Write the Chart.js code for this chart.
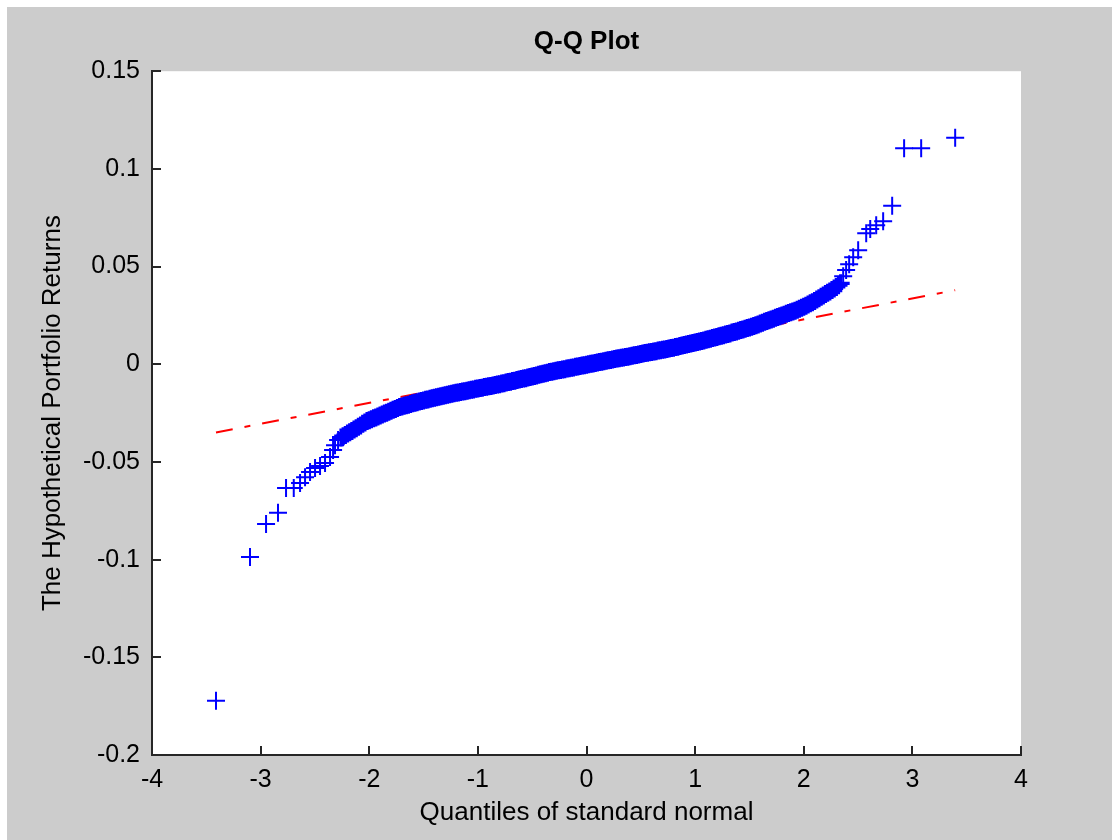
<!DOCTYPE html>
<html>
<head>
<meta charset="utf-8">
<title>Q-Q Plot</title>
<script src="https://cdn.jsdelivr.net/npm/chart.js@4.4.1/dist/chart.umd.min.js"></script>
<style>
  html, body { margin: 0; padding: 0; background: #ffffff; }
  canvas { display: block; }
</style>
</head>
<body>
<canvas id="qq" width="1112" height="840"></canvas>
<script>
// Lower tail: theoretical normal quantiles and portfolio returns
const lowerTailX = [-3.411, -3.098, -2.950, -2.840, -2.766, -2.695, -2.637, -2.591, -2.545, -2.499, -2.453, -2.407, -2.361, -2.333, -2.315, -2.287];
const lowerTailY = [-0.1722, -0.0987, -0.0818, -0.0760, -0.0634, -0.0634, -0.0608, -0.0578, -0.0552, -0.0531, -0.0521, -0.0506, -0.0475, -0.0439, -0.0414, -0.0388];

// Body of the distribution (dense run of observations)
const bodyX = [
  -2.26, -2.24, -2.22, -2.20, -2.18, -2.16, -2.14, -2.12, -2.10, -2.08,
  -2.06, -2.04, -2.02, -2.00, -1.98, -1.96, -1.94, -1.92, -1.90, -1.88,
  -1.86, -1.84, -1.82, -1.80, -1.78, -1.76, -1.74, -1.72, -1.70, -1.68,
  -1.66, -1.64, -1.62, -1.60, -1.58, -1.56, -1.54, -1.52, -1.50, -1.48,
  -1.46, -1.44, -1.42, -1.40, -1.38, -1.36, -1.34, -1.32, -1.30, -1.28,
  -1.26, -1.24, -1.22, -1.20, -1.18, -1.16, -1.14, -1.12, -1.10, -1.08,
  -1.06, -1.04, -1.02, -1.00, -0.98, -0.96, -0.94, -0.92, -0.90, -0.88,
  -0.86, -0.84, -0.82, -0.80, -0.78, -0.76, -0.74, -0.72, -0.70, -0.68,
  -0.66, -0.64, -0.62, -0.60, -0.58, -0.56, -0.54, -0.52, -0.50, -0.48,
  -0.46, -0.44, -0.42, -0.40, -0.38, -0.36, -0.34, -0.32, -0.30, -0.28,
  -0.26, -0.24, -0.22, -0.20, -0.18, -0.16, -0.14, -0.12, -0.10, -0.08,
  -0.06, -0.04, -0.02, 0.00, 0.02, 0.04, 0.06, 0.08, 0.10, 0.12,
  0.14, 0.16, 0.18, 0.20, 0.22, 0.24, 0.26, 0.28, 0.30, 0.32,
  0.34, 0.36, 0.38, 0.40, 0.42, 0.44, 0.46, 0.48, 0.50, 0.52,
  0.54, 0.56, 0.58, 0.60, 0.62, 0.64, 0.66, 0.68, 0.70, 0.72,
  0.74, 0.76, 0.78, 0.80, 0.82, 0.84, 0.86, 0.88, 0.90, 0.92,
  0.94, 0.96, 0.98, 1.00, 1.02, 1.04, 1.06, 1.08, 1.10, 1.12,
  1.14, 1.16, 1.18, 1.20, 1.22, 1.24, 1.26, 1.28, 1.30, 1.32,
  1.34, 1.36, 1.38, 1.40, 1.42, 1.44, 1.46, 1.48, 1.50, 1.52,
  1.54, 1.56, 1.58, 1.60, 1.62, 1.64, 1.66, 1.68, 1.70, 1.72,
  1.74, 1.76, 1.78, 1.80, 1.82, 1.84, 1.86, 1.88, 1.90, 1.92,
  1.94, 1.96, 1.98, 2.00, 2.02, 2.04, 2.06, 2.08, 2.10, 2.12,
  2.14, 2.16, 2.18, 2.20, 2.22, 2.24, 2.26, 2.28, 2.30, 2.32,
  2.34
];
const bodyY = [
  -0.0375, -0.0368, -0.0362, -0.0355, -0.0348, -0.0341, -0.0334, -0.0327, -0.0320, -0.0313,
  -0.0305, -0.0298, -0.0291, -0.0286, -0.0281, -0.0276, -0.0272, -0.0267, -0.0262, -0.0257,
  -0.0252, -0.0248, -0.0243, -0.0238, -0.0233, -0.0229, -0.0224, -0.0219, -0.0216, -0.0213,
  -0.0210, -0.0207, -0.0204, -0.0200, -0.0197, -0.0194, -0.0191, -0.0188, -0.0185, -0.0182,
  -0.0180, -0.0177, -0.0174, -0.0172, -0.0169, -0.0166, -0.0164, -0.0161, -0.0158, -0.0156,
  -0.0153, -0.0151, -0.0149, -0.0146, -0.0144, -0.0142, -0.0140, -0.0138, -0.0135, -0.0133,
  -0.0131, -0.0129, -0.0126, -0.0124, -0.0122, -0.0120, -0.0117, -0.0115, -0.0113, -0.0111,
  -0.0109, -0.0106, -0.0104, -0.0102, -0.0099, -0.0097, -0.0094, -0.0091, -0.0089, -0.0086,
  -0.0084, -0.0081, -0.0078, -0.0076, -0.0073, -0.0071, -0.0068, -0.0065, -0.0063, -0.0060,
  -0.0057, -0.0054, -0.0051, -0.0049, -0.0046, -0.0043, -0.0040, -0.0038, -0.0036, -0.0033,
  -0.0031, -0.0029, -0.0027, -0.0025, -0.0022, -0.0020, -0.0018, -0.0016, -0.0013, -0.0011,
  -0.0009, -0.0007, -0.0005, -0.0002, 0.0000, 0.0002, 0.0004, 0.0007, 0.0009, 0.0011,
  0.0013, 0.0015, 0.0018, 0.0020, 0.0022, 0.0024, 0.0027, 0.0029, 0.0031, 0.0033,
  0.0035, 0.0037, 0.0039, 0.0041, 0.0044, 0.0046, 0.0048, 0.0050, 0.0052, 0.0055,
  0.0057, 0.0059, 0.0061, 0.0063, 0.0065, 0.0067, 0.0070, 0.0072, 0.0074, 0.0076,
  0.0078, 0.0081, 0.0083, 0.0085, 0.0088, 0.0090, 0.0093, 0.0096, 0.0098, 0.0101,
  0.0104, 0.0106, 0.0109, 0.0112, 0.0114, 0.0117, 0.0119, 0.0122, 0.0125, 0.0128,
  0.0131, 0.0134, 0.0137, 0.0140, 0.0143, 0.0146, 0.0149, 0.0152, 0.0155, 0.0158,
  0.0162, 0.0165, 0.0168, 0.0172, 0.0175, 0.0178, 0.0182, 0.0185, 0.0188, 0.0192,
  0.0196, 0.0200, 0.0204, 0.0209, 0.0213, 0.0217, 0.0221, 0.0225, 0.0229, 0.0233,
  0.0238, 0.0242, 0.0246, 0.0250, 0.0254, 0.0258, 0.0262, 0.0266, 0.0270, 0.0274,
  0.0279, 0.0284, 0.0289, 0.0294, 0.0300, 0.0306, 0.0312, 0.0318, 0.0324, 0.0331,
  0.0338, 0.0345, 0.0352, 0.0359, 0.0366, 0.0373, 0.0380, 0.0388, 0.0396, 0.0405,
  0.0414
];

// Upper tail
const upperTailX = [2.363, 2.390, 2.418, 2.455, 2.501, 2.575, 2.612, 2.667, 2.731, 2.814, 2.924, 3.081, 3.394];
const upperTailY = [0.0451, 0.0482, 0.0512, 0.0548, 0.0584, 0.0671, 0.0692, 0.0712, 0.0732, 0.0811, 0.1106, 0.1106, 0.1159];

// Reference line through the quartiles, extended to the data range
const refLineX = [-3.411, 3.394];
const refLineY = [-0.0349, 0.0379];

// Axis ticks
const xTicks = [-4, -3, -2, -1, 0, 1, 2, 3, 4];
const xTickLabels = ['-4', '-3', '-2', '-1', '0', '1', '2', '3', '4'];
const yTicks = [-0.2, -0.15, -0.1, -0.05, 0, 0.05, 0.1, 0.15];
const yTickLabels = ['-0.2', '-0.15', '-0.1', '-0.05', '0', '0.05', '0.1', '0.15'];

const FONT = '"Liberation Sans", Arial, Helvetica, sans-serif';
const AXIS_COLOR = '#262626';
const MARKER_BLUE = '#0000ff';

const zip = (xs, ys) => xs.map((x, i) => ({ x: x, y: ys[i] }));
const tailPoints = zip(lowerTailX, lowerTailY).concat(zip(upperTailX, upperTailY));
const bodyPoints = zip(bodyX, bodyY);
const linePoints = zip(refLineX, refLineY);

// Grey figure background with a white axes box
const backdrop = {
  id: 'backdrop',
  beforeDraw(chart) {
    const { ctx, width, height, chartArea: a } = chart;
    ctx.save();
    ctx.fillStyle = '#ffffff';
    ctx.fillRect(0, 0, width, height);
    ctx.fillStyle = '#cccccc';
    ctx.fillRect(7, 7, width - 7, height - 7);
    ctx.fillStyle = '#ffffff';
    ctx.fillRect(a.left, a.top, a.right - a.left, a.bottom - a.top);
    ctx.restore();
  }
};

// Tick marks pointing into the axes box
const inwardTicks = {
  id: 'inwardTicks',
  afterDraw(chart) {
    const { ctx, chartArea: a, scales } = chart;
    ctx.save();
    ctx.strokeStyle = AXIS_COLOR;
    ctx.lineWidth = 2;
    ctx.beginPath();
    scales.x.ticks.forEach(t => {
      const px = Math.round(scales.x.getPixelForValue(t.value));
      ctx.moveTo(px, a.bottom);
      ctx.lineTo(px, a.bottom - 9);
    });
    scales.y.ticks.forEach(t => {
      const py = Math.round(scales.y.getPixelForValue(t.value));
      ctx.moveTo(a.left, py);
      ctx.lineTo(a.left + 9, py);
    });
    ctx.stroke();
    ctx.restore();
  }
};

const crossStyle = {
  pointStyle: 'cross',
  pointRadius: 9,
  pointHoverRadius: 9,
  borderColor: MARKER_BLUE,
  backgroundColor: MARKER_BLUE
};

new Chart(document.getElementById('qq'), {
  type: 'scatter',
  data: {
    datasets: [
      Object.assign({ label: 'Tails', data: tailPoints, pointBorderWidth: 2, borderWidth: 2 }, crossStyle),
      // overlapping crosses in the body merge into one solid band
      Object.assign({ label: 'Body', data: bodyPoints, pointBorderWidth: 3.2, borderWidth: 3.2 }, crossStyle),
      {
        type: 'line',
        label: 'Reference',
        data: linePoints,
        borderColor: '#ff0000',
        borderWidth: 2,
        borderDash: [17, 12, 6, 12],
        pointRadius: 0,
        fill: false,
        tension: 0
      }
    ]
  },
  options: {
    responsive: false,
    devicePixelRatio: 1,
    animation: false,
    events: [],
    layout: { padding: { left: 0, top: 0, right: 91, bottom: 0 } },
    plugins: {
      legend: { display: false },
      tooltip: { enabled: false },
      title: {
        display: true,
        fullSize: false,
        text: 'Q-Q Plot',
        color: '#000000',
        font: { family: FONT, size: 26, weight: 'bold', lineHeight: 1.2 },
        padding: { top: 26, bottom: 14 }
      }
    },
    scales: {
      x: {
        type: 'linear',
        min: -4,
        max: 4,
        afterFit(scale) { scale.height = 85; },
        afterBuildTicks(scale) { scale.ticks = xTicks.map(v => ({ value: v })); },
        ticks: {
          autoSkip: false,
          maxRotation: 0,
          padding: 10,
          color: '#000000',
          font: { family: FONT, size: 25, lineHeight: 1.2 },
          callback: (v, i) => xTickLabels[i]
        },
        grid: { display: false, drawTicks: false },
        border: { display: true, color: AXIS_COLOR, width: 2 },
        title: {
          display: true,
          text: 'Quantiles of standard normal',
          color: '#000000',
          font: { family: FONT, size: 26, lineHeight: 1.2 },
          padding: { top: 0, bottom: 12 }
        }
      },
      y: {
        type: 'linear',
        min: -0.2,
        max: 0.15,
        afterFit(scale) { scale.width = 152; },
        afterBuildTicks(scale) { scale.ticks = yTicks.map(v => ({ value: v })); },
        ticks: {
          autoSkip: false,
          padding: 12,
          color: '#000000',
          font: { family: FONT, size: 25, lineHeight: 1.2 },
          callback: (v, i) => yTickLabels[i]
        },
        grid: { display: false, drawTicks: false },
        border: { display: true, color: AXIS_COLOR, width: 2 },
        title: {
          display: true,
          text: 'The Hypothetical Portfolio Returns',
          color: '#000000',
          font: { family: FONT, size: 26, lineHeight: 1.2 },
          padding: { top: 37, bottom: 0 }
        }
      }
    }
  },
  plugins: [backdrop, inwardTicks]
});
</script>
</body>
</html>
